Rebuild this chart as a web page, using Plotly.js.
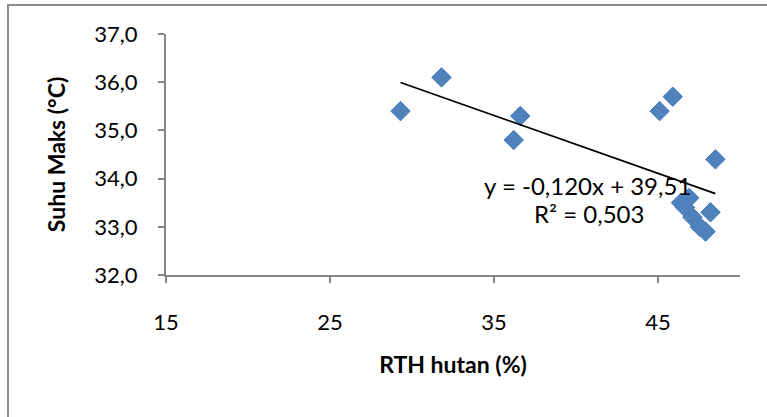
<!DOCTYPE html>
<html>
<head>
<meta charset="utf-8">
<script src="https://cdn.plot.ly/plotly-3.0.1.min.js"></script>
<style>
  html, body { margin: 0; padding: 0; background: #fff; }
  #wrap { position: relative; width: 767px; height: 417px; overflow: hidden; }
  #chart { position: absolute; left: 0; top: 0; width: 767px; height: 417px; }
  #frame { position: absolute; left: 7px; top: 4px; width: 800px; height: 450px;
           border-left: 2px solid #8c8c8c; border-top: 2px solid #8c8c8c; pointer-events: none; }
</style>
</head>
<body>
<div id="wrap">
  <div id="chart"></div>
  <div id="frame"></div>
</div>
<script>
// Data
const rthHutan = [29.3, 31.8, 36.6, 36.2, 45.1, 45.9, 48.5, 46.9, 46.4, 46.65, 48.2, 47.1, 47.55, 47.9];
const suhuMaks = [35.4, 36.1, 35.3, 34.8, 35.4, 35.7, 34.4, 33.6, 33.5, 33.4, 33.3, 33.2, 33.0, 32.9];
const trendSlope = -0.120;
const trendIntercept = 39.51;
const rSquared = 0.503;
const xTicks = [15, 25, 35, 45];
const yTicks = [32, 33, 34, 35, 36, 37];

const fmt = (v, d) => v.toFixed(d).replace('.', ',');
const xMin = Math.min(...rthHutan), xMax = Math.max(...rthHutan);
const trendX = [xMin, xMax];
const trendY = trendX.map(x => trendSlope * x + trendIntercept);

const FONT = 'Lato, "Liberation Sans", sans-serif';
const AX = '#868686';

const traces = [
  {
    type: 'scatter', mode: 'markers',
    x: rthHutan, y: suhuMaks,
    marker: { symbol: 'diamond', size: 15, color: '#4F81BD', line: { color: '#4A7EBB', width: 1 } },
    showlegend: false, hoverinfo: 'x+y'
  },
  {
    type: 'scatter', mode: 'lines',
    x: trendX, y: trendY,
    line: { color: '#000', width: 1.8 },
    showlegend: false, hoverinfo: 'skip'
  }
];

const layout = {
  width: 767, height: 417,
  margin: { l: 166, r: 27, t: 34, b: 142 },
  paper_bgcolor: '#fff', plot_bgcolor: '#fff',
  font: { family: FONT, color: '#000', size: 22 },
  showlegend: false,
  xaxis: {
    range: [15, 50], tickvals: xTicks, ticktext: xTicks.map(String),
    showgrid: false, zeroline: false,
    showline: true, linecolor: AX, linewidth: 2,
    ticks: 'outside', ticklen: 6, tickwidth: 2, tickcolor: AX,
    ticklabelstandoff: 21,
    tickfont: { family: FONT, size: 22, color: '#000' },
    title: { text: 'RTH hutan (%)', font: { family: FONT, size: 23, color: '#000', weight: 'bold' }, standoff: 22 },
    automargin: false, fixedrange: true
  },
  yaxis: {
    range: [32, 37], tickvals: yTicks, ticktext: yTicks.map(v => fmt(v, 1)),
    showgrid: false, zeroline: false,
    showline: true, linecolor: AX, linewidth: 2,
    ticks: 'outside', ticklen: 6, tickwidth: 2, tickcolor: AX,
    ticklabelstandoff: 16,
    tickfont: { family: FONT, size: 22, color: '#000' },
    title: { text: 'Suhu Maks (°C)', font: { family: FONT, size: 23, color: '#000', weight: 'bold' }, standoff: 22 },
    automargin: false, fixedrange: true
  },
  annotations: [
    {
      xref: 'x', yref: 'y', x: 40.7, y: 33.86,
      text: 'y = ' + fmt(trendSlope, 3) + 'x + ' + fmt(trendIntercept, 2),
      showarrow: false, font: { family: FONT, size: 24, color: '#000' }, xanchor: 'center', yanchor: 'middle'
    },
    {
      xref: 'x', yref: 'y', x: 40.8, y: 33.27,
      text: 'R² = ' + fmt(rSquared, 3),
      showarrow: false, font: { family: FONT, size: 24, color: '#000' }, xanchor: 'center', yanchor: 'middle'
    }
  ]
};

Plotly.newPlot('chart', traces, layout, { displayModeBar: false, staticPlot: true });
</script>
</body>
</html>
